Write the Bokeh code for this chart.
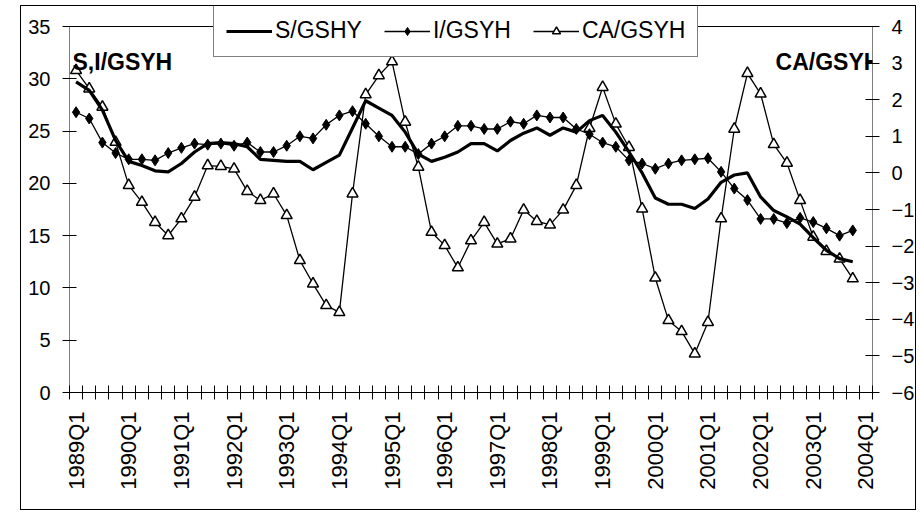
import math
from bokeh.plotting import figure
from bokeh.models import (LinearAxis, Range1d, FixedTicker, Legend, LegendItem,
                          Label, ColumnDataSource)
from bokeh.embed import file_html
from bokeh.resources import INLINE

# ---------------- data ----------------
years = list(range(1989, 2004))
quarters = [f"{y}Q{q}" for y in years for q in range(1, 5)]          # 1989Q1 .. 2003Q4
axis_categories = quarters + ["2004Q1"]
tick_labels = [c for c in axis_categories if c.endswith("Q1")]

s_gshy = [29.7, 28.9, 27.0, 24.1, 22.1, 21.7, 21.2, 21.1, 21.9, 23.0, 23.8, 23.9,
          23.8, 23.5, 22.3, 22.2, 22.1, 22.1, 21.3, 22.0, 22.7, 25.3, 27.9, 27.2,
          26.5, 24.9, 22.8, 22.1, 22.5, 23.0, 23.8, 23.8, 23.1, 24.1, 24.8, 25.3,
          24.6, 25.3, 24.9, 26.0, 26.5, 24.9, 23.0, 21.0, 18.6, 18.0, 18.0, 17.6,
          18.5, 20.1, 20.8, 21.0, 18.7, 17.4, 16.8, 16.1, 14.8, 13.6, 12.8, 12.5]

i_gsyh = [26.8, 26.2, 23.9, 22.9, 22.3, 22.3, 22.2, 22.9, 23.4, 23.8, 23.7, 23.8,
          23.6, 23.9, 23.0, 23.0, 23.6, 24.5, 24.3, 25.6, 26.5, 26.9, 25.7, 24.5,
          23.5, 23.5, 22.8, 23.8, 24.5, 25.5, 25.5, 25.2, 25.2, 25.9, 25.7, 26.5,
          26.3, 26.3, 25.2, 24.7, 23.9, 23.5, 22.2, 21.9, 21.4, 21.9, 22.2, 22.3,
          22.4, 21.1, 19.5, 18.4, 16.6, 16.6, 16.2, 16.7, 16.3, 15.7, 15.0, 15.5]

ca_gsyh = [2.8, 2.3, 1.8, 0.84, -0.34, -0.8, -1.35, -1.71, -1.25, -0.66, 0.2, 0.18,
           0.11, -0.5, -0.75, -0.57, -1.16, -2.39, -3.03, -3.62, -3.81, -0.57, 2.14, 2.66,
           3.04, 1.39, 0.16, -1.62, -1.98, -2.59, -1.85, -1.35, -1.94, -1.8, -1.01, -1.32,
           -1.42, -1.01, -0.34, 1.22, 2.34, 1.34, 0.7, -0.98, -2.87, -4.03, -4.33, -4.94,
           -4.08, -1.25, 1.2, 2.72, 2.16, 0.78, 0.27, -0.75, -1.75, -2.14, -2.35, -2.89]

left_ticks = [0, 5, 10, 15, 20, 25, 30, 35]
right_ticks = [-6, -5, -4, -3, -2, -1, 0, 1, 2, 3, 4]

# ---------------- figure ----------------
xpos = [axis_categories.index(q) for q in quarters]
src = ColumnDataSource(dict(x=xpos, s=s_gshy, i=i_gsyh, ca=ca_gsyh))

FONT = "Liberation Sans"

# frame reaches up to the top of the canvas (room for the legend); the axes stop at 35 / 4
FRAME_H = 386            # px: 20 px headroom + 366 px for the 0..35 axis
LEFT_MAX = left_ticks[-1]
RIGHT_MIN, RIGHT_MAX = right_ticks[0], right_ticks[-1]
left_top = LEFT_MAX * FRAME_H / 366.0
right_top = RIGHT_MIN + (RIGHT_MAX - RIGHT_MIN) * FRAME_H / 366.0

x_lo, x_hi = -0.5, len(axis_categories) - 0.5

p = figure(width=896, height=505, output_backend="svg", toolbar_location=None, title=None,
           x_range=Range1d(x_lo, x_hi),
           y_range=Range1d(0, left_top),
           min_border_left=48, min_border_right=38, min_border_top=0, min_border_bottom=119)
p.margin = (5, 0, 0, 20)
p.styles = {"border": "1px solid #000"}
p.extra_y_ranges = {"ca": Range1d(RIGHT_MIN, right_top)}
p.background_fill_color = "white"
p.border_fill_color = "white"
p.outline_line_color = None
p.xgrid.visible = False
p.ygrid.visible = False

# plot-area border: left axis line, top line, right axis line (0..35 only)
p.segment(x0=[x_lo, x_lo, x_hi], y0=[0, LEFT_MAX, 0],
          x1=[x_lo, x_hi, x_hi], y1=[LEFT_MAX, LEFT_MAX, LEFT_MAX],
          line_color="black", line_width=1)

# x axis: labels on Q1 categories, crossing ticks at category boundaries
xa = p.xaxis[0]
xa.ticker = FixedTicker(ticks=[axis_categories.index(t) for t in tick_labels],
                        minor_ticks=[k - 0.5 for k in range(len(axis_categories) + 1)])
xa.major_label_overrides = {axis_categories.index(t): t for t in tick_labels}
xa.major_tick_line_color = None
xa.minor_tick_line_color = "black"
xa.minor_tick_in = 7
xa.minor_tick_out = 7
xa.axis_line_color = "black"
xa.major_label_orientation = math.pi / 2
xa.major_label_standoff = 12
xa.major_label_text_font = FONT
xa.major_label_text_font_size = "22px"
xa.major_label_text_color = "black"

# left axis
ya = p.yaxis[0]
ya.ticker = FixedTicker(ticks=left_ticks)
ya.minor_tick_line_color = None
ya.major_tick_in = 7
ya.major_tick_out = 7
ya.major_label_standoff = 12
ya.major_label_text_font = FONT
ya.major_label_text_font_size = "20px"
ya.major_label_text_color = "black"
ya.axis_line_color = None

# right axis
ra = LinearAxis(y_range_name="ca", ticker=FixedTicker(ticks=right_ticks))
ra.minor_tick_line_color = None
ra.major_tick_in = 7
ra.major_tick_out = 7
ra.major_label_standoff = 12
ra.major_label_text_font = FONT
ra.major_label_text_font_size = "20px"
ra.major_label_text_color = "black"
ra.axis_line_color = None
p.add_layout(ra, "right")

# series
r_ca_line = p.line("x", "ca", source=src, y_range_name="ca", line_color="black", line_width=1.3)
r_ca_pts = p.scatter("x", "ca", source=src, y_range_name="ca", marker="triangle", size=11,
                     fill_color="white", line_color="black", line_width=1.5)
r_i_line = p.line("x", "i", source=src, line_color="black", line_width=1.3)
r_i_pts = p.scatter("x", "i", source=src, marker="diamond", size=11,
                    fill_color="black", line_color="black")
r_s = p.line("x", "s", source=src, line_color="black", line_width=3.2)

legend = Legend(items=[
    LegendItem(label="S/GSHY", renderers=[r_s]),
    LegendItem(label="I/GSYH", renderers=[r_i_line, r_i_pts]),
    LegendItem(label="CA/GSYH", renderers=[r_ca_line, r_ca_pts]),
], location=(144, 335), orientation="horizontal")
legend.label_text_font = FONT
legend.label_text_font_size = "23px"
legend.label_text_color = "black"
legend.glyph_width = 46
legend.glyph_height = 20
legend.label_standoff = 3
legend.spacing = 22
legend.padding = 12
legend.margin = 0
legend.border_line_color = "black"
legend.border_line_width = 1
legend.background_fill_color = "white"
legend.background_fill_alpha = 1
p.add_layout(legend, "center")

# axis titles inside plot
p.add_layout(Label(x=-0.27, y=31.6, text="S,I/GSYH", text_font=FONT, text_font_size="23px",
                   text_font_style="bold", text_baseline="alphabetic", text_color="black"))
p.add_layout(Label(x=61.1, y=31.6, text="CA/GSYH", text_font=FONT, text_font_size="23px",
                   text_font_style="bold", text_baseline="alphabetic", text_align="right",
                   text_color="black"))

open("out.html", "w").write(file_html(p, INLINE))
